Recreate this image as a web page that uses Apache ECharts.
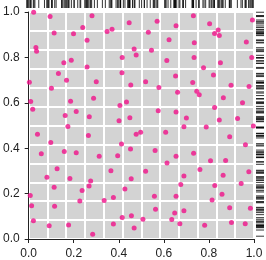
<!DOCTYPE html>
<html>
<head>
<meta charset="utf-8">
<script src="https://cdn.jsdelivr.net/npm/echarts@6/dist/echarts.min.js"></script>
<style>html,body{margin:0;padding:0;background:#fff}#c{width:266px;height:260px}</style>
</head>
<body>
<div id="c"></div>
<script>
const xs = [0.022,0.095,0.281,0.113,0.240,0.199,0.259,0.348,0.370,0.446,0.032,0.035,0.468,0.477,0.415,0.156,0.189,0.259,0.132,0.003,0.168,0.300,0.414,0.453,0.101,0.009,0.018,0.186,0.288,0.211,0.434,0.405,0.162,0.269,0.401,0.449,0.174,
0.570,0.654,0.731,0.803,0.841,0.825,0.846,0.993,0.531,0.623,0.735,0.966,0.545,0.734,0.613,0.851,0.990,0.776,0.820,0.652,0.519,0.728,0.898,0.978,0.578,0.661,0.746,0.757,0.864,0.949,0.825,0.575,0.654,0.700,0.846,0.927,0.689,0.788,0.997,
0.039,0.098,0.265,0.056,0.158,0.211,0.313,0.412,0.395,0.452,0.477,0.497,0.126,0.081,0.183,0.365,0.455,0.275,0.268,0.113,0.237,0.427,0.007,0.227,0.335,0.376,0.013,0.115,0.021,0.415,0.456,0.091,0.177,0.376,0.468,0.284,
0.608,0.892,0.561,0.654,0.732,0.962,0.614,0.807,0.874,0.519,0.760,0.863,0.977,0.689,0.675,0.826,0.943,0.558,0.654,0.858,0.814,0.563,0.689,0.892,0.984,0.648,0.507,0.635,0.900,0.961,0.671,0.781];
const ys = [0.999,0.980,0.984,0.907,0.932,0.904,0.876,0.914,0.924,0.953,0.844,0.827,0.837,0.811,0.800,0.776,0.787,0.758,0.729,0.691,0.699,0.693,0.732,0.678,0.664,0.606,0.572,0.607,0.620,0.562,0.603,0.588,0.544,0.539,0.521,0.534,0.496,
0.959,0.939,0.983,0.948,0.921,0.905,0.897,0.965,0.911,0.878,0.865,0.868,0.831,0.800,0.786,0.776,0.800,0.754,0.722,0.718,0.693,0.689,0.677,0.672,0.667,0.646,0.651,0.635,0.622,0.600,0.579,0.565,0.559,0.533,0.524,0.531,0.495,0.493,0.498,
0.461,0.425,0.456,0.376,0.386,0.380,0.365,0.419,0.367,0.397,0.462,0.470,0.309,0.272,0.266,0.301,0.265,0.256,0.234,0.228,0.214,0.220,0.192,0.167,0.170,0.183,0.147,0.144,0.080,0.095,0.102,0.058,0.062,0.066,0.048,0.021,
0.470,0.450,0.390,0.364,0.378,0.415,0.335,0.345,0.346,0.298,0.306,0.281,0.296,0.278,0.240,0.236,0.245,0.188,0.188,0.197,0.172,0.131,0.124,0.138,0.135,0.115,0.087,0.086,0.073,0.067,0.067,0.061];
const tickLabels = ['0.0','0.2','0.4','0.6','0.8','1.0'];
const cells = 12;

const pts = xs.map((x, i) => [x, ys[i]]);
const font = "'Liberation Sans', Arial, sans-serif";
const chart = echarts.init(document.getElementById('c'), null, {renderer: 'canvas'});
const mainAxis = (pos) => ({
  type: 'value', min: 0, max: 1, interval: 0.2, position: pos, offset: 4, gridIndex: 0,
  axisLine: {show: true, lineStyle: {color: '#222', width: 1}},
  axisTick: {show: true, length: 4, lineStyle: {color: '#222'}},
  axisLabel: {show: true, fontSize: 12, fontFamily: font, color: '#222', margin: 5,
    formatter: v => tickLabels[Math.round(v / 0.2)]},
  splitLine: {show: false}
});
const cellAxis = (pos) => ({
  type: 'value', min: 0, max: cells, interval: 1, position: pos, gridIndex: 0,
  axisLine: {show: false}, axisTick: {show: false}, axisLabel: {show: false},
  splitLine: {show: true, lineStyle: {color: '#ffffff', width: 2}}
});
const hidden = (g) => ({type: 'value', min: 0, max: 1, gridIndex: g, show: false});
chart.setOption({
  animation: false,
  grid: [
    {left: 26, right: 12, top: 12, bottom: 19, show: true, backgroundColor: '#d3d3d3', borderWidth: 0},
    {left: 26, right: 12, top: 0, height: 8},
    {left: 256, width: 8, top: 12, bottom: 19}
  ],
  xAxis: [mainAxis('bottom'), cellAxis('top'), hidden(1), hidden(2)],
  yAxis: [mainAxis('left'), cellAxis('right'), hidden(1), hidden(2)],
  series: [
    {type: 'scatter', xAxisIndex: 0, yAxisIndex: 0, data: pts, symbolSize: 5,
     itemStyle: {color: '#f0128a'}, z: 5},
    {type: 'scatter', xAxisIndex: 2, yAxisIndex: 2, data: xs.map(x => [x, 0.5]),
     symbol: 'rect', symbolSize: [1, 8], itemStyle: {color: '#000'}},
    {type: 'scatter', xAxisIndex: 3, yAxisIndex: 3, data: ys.map(y => [0.5, y]),
     symbol: 'rect', symbolSize: [8, 1], itemStyle: {color: '#000'}}
  ]
});
</script>
</body>
</html>
